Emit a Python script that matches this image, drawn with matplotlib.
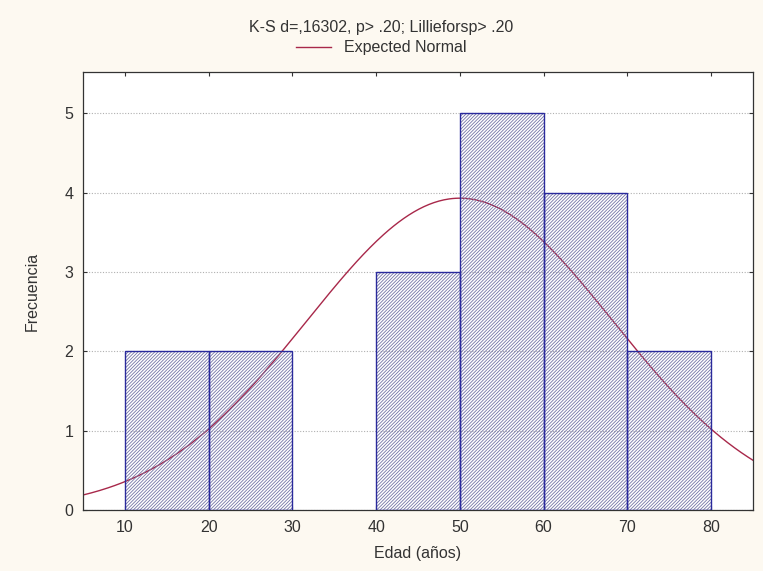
import numpy as np
import matplotlib.pyplot as plt

plt.rcParams["font.family"] = ["Liberation Sans", "DejaVu Sans"]
plt.rcParams["hatch.linewidth"] = 0.6
plt.rcParams["hatch.color"] = "#7474a6"

bin_edges = [10, 20, 30, 40, 50, 60, 70, 80]
counts = [2, 2, 0, 3, 5, 4, 2]
fit_mean = 50.0
fit_sd = 18.27
n_obs = 18
bin_width = 10

bg = "#fdf9f1"
fig = plt.figure(figsize=(7.63, 5.71), dpi=100, facecolor=bg)
ax = fig.add_axes([0.1088, 0.1068, 0.878, 0.767])
ax.set_facecolor("white")

# expected normal curve (drawn under the bars)
xs = np.linspace(5, 85, 400)
ys = n_obs * bin_width / (fit_sd * np.sqrt(2 * np.pi)) * np.exp(-0.5 * ((xs - fit_mean) / fit_sd) ** 2)
ax.plot(xs, ys, color="#a8284a", lw=1.0, zorder=2, label="Expected Normal")

lefts = bin_edges[:-1]
for left, c in zip(lefts, counts):
    if c == 0:
        continue
    ax.bar(left, c, width=bin_width, align="edge", facecolor="none",
           edgecolor="#7474a6", hatch="//////////", lw=0, zorder=3)
    ax.bar(left, c, width=bin_width, align="edge", facecolor="none",
           edgecolor="#2a2a9c", lw=1.0, zorder=4)

ax.set_xlim(5, 85)
ax.set_ylim(0, 5.52)
ax.set_xticks([10, 20, 30, 40, 50, 60, 70, 80])
ax.set_yticks([0, 1, 2, 3, 4, 5])
ax.yaxis.grid(True, linestyle=(0, (1, 1.5)), color="#b0b0b0", lw=0.8, zorder=0)
ax.tick_params(direction="in", length=3, top=True, right=True, labelsize=11.5,
               colors="#333333", pad=7)
for s in ax.spines.values():
    s.set_color("#333333")
    s.set_linewidth(0.9)

ax.set_xlabel("Edad (años)", fontsize=11.5, color="#333333", labelpad=8)
ax.set_ylabel("Frecuencia", fontsize=11.5, color="#333333", labelpad=18)

fig.text(0.5, 0.952, "K-S d=,16302, p> .20; Lillieforsp> .20", ha="center",
         va="center", fontsize=11.5, color="#333333")
fig.legend(loc="center", bbox_to_anchor=(0.5, 0.916), frameon=False,
           fontsize=11.5, handlelength=2.2, labelcolor="#333333")

plt.savefig("out.png", dpi=100, facecolor=bg)
plt.close()
